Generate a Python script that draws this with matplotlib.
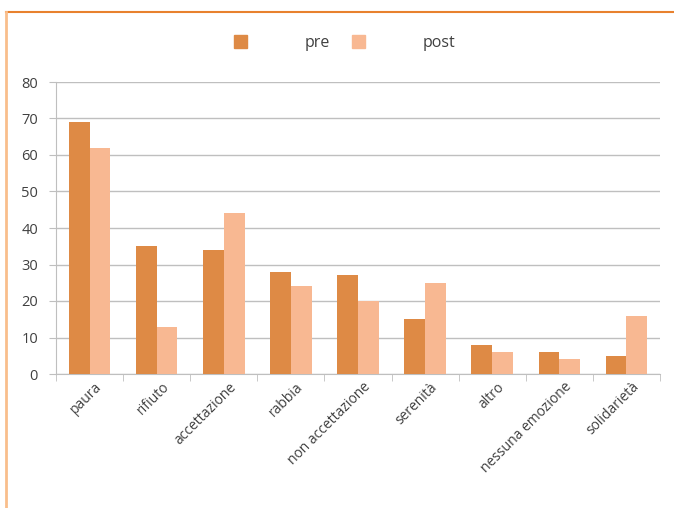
import numpy as np
import matplotlib.pyplot as plt
import matplotlib.transforms as mtransforms
from matplotlib.patches import Patch
from matplotlib.lines import Line2D

# ─────────────────────────────────────────────────────────────
# Data
# ─────────────────────────────────────────────────────────────
categories = ['paura', 'rifiuto', 'accettazione', 'rabbia', 'non accettazione',
              'serenità', 'altro', 'nessuna emozione', 'solidarietà']
pre  = [69, 35, 34, 28, 27, 15, 8, 6, 5]
post = [62, 13, 44, 24, 20, 25, 6, 4, 16]
series_names = ['pre', 'post']

C_PRE  = '#DE8A45'
C_POST = '#F8B892'
TXT    = '#404040'
GRID   = '#BFBFBF'

plt.rcParams['font.family'] = ['Open Sans', 'DejaVu Sans']

fig = plt.figure(figsize=(6.74, 5.08), dpi=100)
ax = fig.add_axes([56/674, 1 - 374/508, (660 - 56)/674, (374 - 82)/508])

x = np.arange(len(categories))
w = 0.31
ax.bar(x - w/2, pre,  width=w, color=C_PRE,  zorder=3)
ax.bar(x + w/2, post, width=w, color=C_POST, zorder=3)

ax.set_xlim(-0.5, len(categories) - 0.5)
ax.set_ylim(0, 80)
ax.set_yticks(np.arange(0, 81, 10))
ax.yaxis.grid(True, color=GRID, linewidth=1, zorder=0)
ax.tick_params(axis='y', colors=GRID, labelcolor=TXT, labelsize=10.5, length=5, pad=8)

# category labels at centres, tick marks at boundaries
ax.set_xticks(x)
ax.set_xticklabels(categories, rotation=45, ha='right', rotation_mode='anchor',
                   color=TXT, fontsize=10)
ax.tick_params(axis='x', length=0, pad=4)
shift = mtransforms.ScaledTranslation(5/100, 0, fig.dpi_scale_trans)
for lbl in ax.get_xticklabels():
    lbl.set_transform(lbl.get_transform() + shift)
ax.set_xticks(np.arange(-0.5, len(categories) + 0.5, 1), minor=True)
ax.tick_params(axis='x', which='minor', length=5, color=GRID)

for s in ['top', 'right']:
    ax.spines[s].set_visible(False)
for s in ['left', 'bottom']:
    ax.spines[s].set_color(GRID)

handles = [Patch(color=C_PRE), Patch(color=C_POST)]
fig.legend(handles, series_names, loc='center', bbox_to_anchor=(345/674, 1 - 43/508),
           ncol=2, frameon=False, fontsize=11.5, labelcolor=TXT,
           handlelength=0.8, handleheight=0.8, handletextpad=3.6, columnspacing=1.4)

# chart frame edges
fig.add_artist(Line2D([6/674, 1], [1 - 12/508] * 2, color='#E8812E', linewidth=1.5))
fig.add_artist(Line2D([6/674] * 2, [0, 1 - 12/508], color='#F9BE8C', linewidth=2))

fig.savefig('out.png', dpi=100)
